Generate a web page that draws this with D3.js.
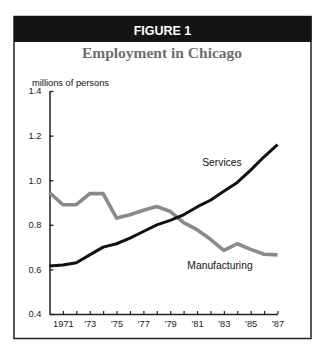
<!DOCTYPE html>
<html><head><meta charset="utf-8">
<script src="https://cdn.jsdelivr.net/npm/d3@7"></script>
<style>html,body{margin:0;padding:0;background:#fff;}svg{display:block;}</style>
</head><body>
<script>
const years = [1970,1971,1972,1973,1974,1975,1976,1977,1978,1979,1980,1981,1982,1983,1984,1985,1986,1987];
const services = [0.615,0.62,0.63,0.665,0.70,0.715,0.74,0.77,0.80,0.82,0.845,0.88,0.91,0.95,0.99,1.045,1.105,1.16];
const manufacturing = [0.945,0.89,0.89,0.94,0.94,0.83,0.845,0.865,0.882,0.86,0.81,0.778,0.735,0.685,0.715,0.69,0.668,0.665];
const yTicks = [0.4,0.6,0.8,1.0,1.2,1.4];
const xTicks = [1971,1972,1973,1974,1975,1976,1977,1978,1979,1980,1981,1982,1983,1984,1985,1986,1987];
const xTickLabels = {1971:"1971",1973:"'73",1975:"'75",1977:"'77",1979:"'79",1981:"'81",1983:"'83",1985:"'85",1987:"'87"};

const W = 326, H = 350;
const svg = d3.select("body").append("svg").attr("width", W).attr("height", H);

// frame
svg.append("rect").attr("x",14).attr("y",16.5).attr("width",297).attr("height",322)
  .attr("fill","#fff").attr("stroke","#222").attr("stroke-width",1.5);
svg.append("rect").attr("x",14).attr("y",16).attr("width",297.5).attr("height",26).attr("fill","#141414");
svg.append("text").attr("x",162.5).attr("y",34.5).attr("text-anchor","middle")
  .attr("font-family","Liberation Sans, Arial, sans-serif").attr("font-weight","bold")
  .attr("font-size","12.5px").attr("fill","#fff").text("FIGURE 1");
svg.append("text").attr("x",162).attr("y",57.5).attr("text-anchor","middle")
  .attr("font-family","Liberation Serif, Times New Roman, serif").attr("font-weight","bold")
  .attr("font-size","15.5px").attr("fill","#6e6e6e").text("Employment in Chicago");

const x = d3.scaleLinear().domain([1970,1987]).range([49.5,277.5]);
const y = d3.scaleLinear().domain([0.4,1.4]).range([314,91]);

const font = "Liberation Sans, Arial, sans-serif";

svg.append("text").attr("x",32).attr("y",86).attr("font-family",font)
  .attr("font-size","9.3px").attr("fill","#111").text("millions of persons");

const yAxis = d3.axisLeft(y).tickValues(yTicks).tickFormat(d3.format(".1f"))
  .tickSizeInner(-4).tickSizeOuter(0).tickPadding(8);
const gy = svg.append("g").attr("transform","translate(49.5,0)").call(yAxis);
gy.selectAll("text").attr("font-family",font).attr("font-size","9.3px").attr("fill","#222");
gy.selectAll("line").attr("stroke","#222").attr("stroke-width",1.3);
gy.select(".domain").attr("stroke","#222").attr("stroke-width",1.5);

const xAxis = d3.axisBottom(x).tickValues(xTicks).tickFormat(d => xTickLabels[d] || "")
  .tickSizeInner(-3).tickSizeOuter(0).tickPadding(6);
const gx = svg.append("g").attr("transform","translate(0,314)").call(xAxis);
gx.selectAll("text").attr("font-family",font).attr("font-size","9.3px").attr("fill","#222");
gx.selectAll("line").attr("stroke","#222").attr("stroke-width",1.2);
gx.select(".domain").attr("stroke","#222").attr("stroke-width",1.5);

const line = d3.line().x((d,i) => x(years[i])).y(d => y(d));
svg.append("path").datum(manufacturing).attr("d",line).attr("fill","none")
  .attr("stroke","#8a8a8a").attr("stroke-width",3.6).attr("stroke-linejoin","round");
svg.append("path").datum(services).attr("d",line).attr("fill","none")
  .attr("stroke","#111").attr("stroke-width",3).attr("stroke-linejoin","round");

svg.append("text").attr("x",222).attr("y",166).attr("text-anchor","middle").attr("font-family",font)
  .attr("font-size","10.3px").attr("fill","#111").text("Services");
svg.append("text").attr("x",220).attr("y",269).attr("text-anchor","middle").attr("font-family",font)
  .attr("font-size","10.3px").attr("fill","#111").text("Manufacturing");
</script>
</body></html>
